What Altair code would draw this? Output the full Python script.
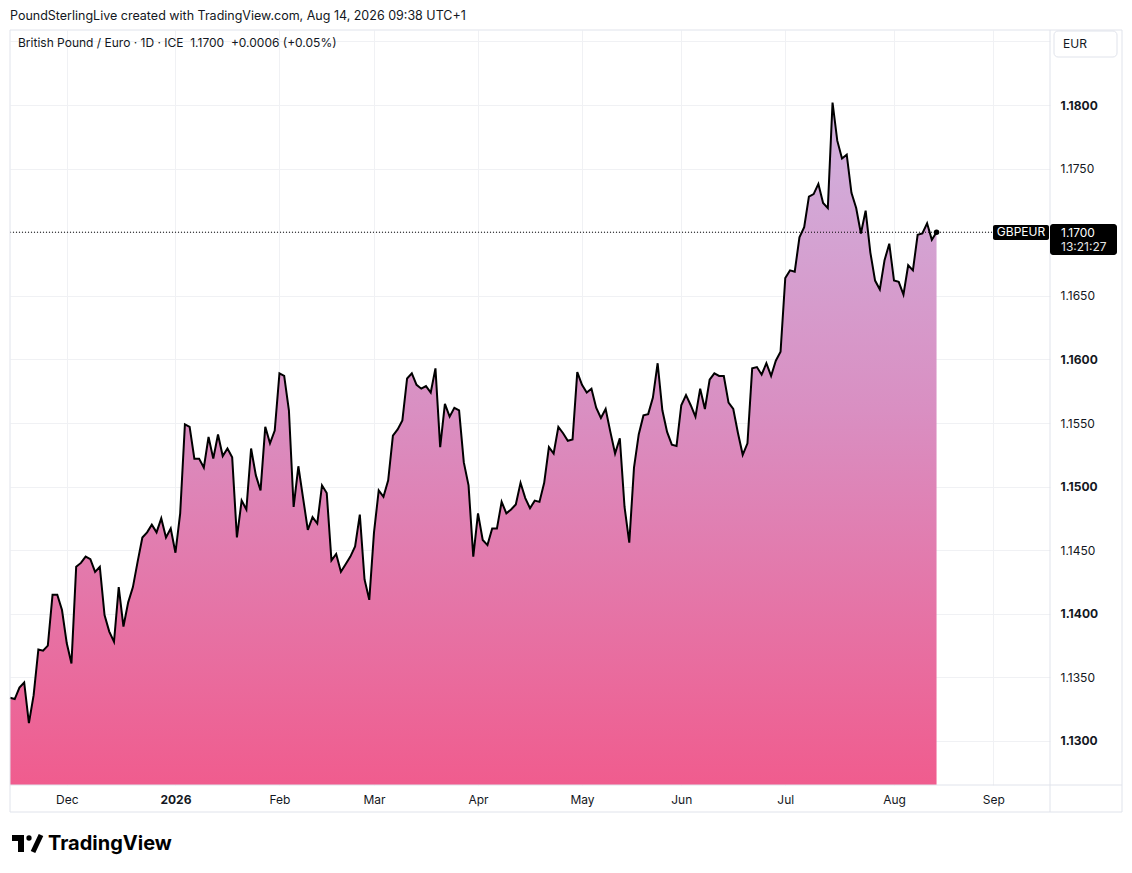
import altair as alt
import pandas as pd

# ---- data ----
PRICES = [
    1.1334, 1.1333, 1.1342, 1.1346, 1.1314, 1.1336, 1.1372, 1.1371, 1.1375, 1.1415,
    1.1415, 1.1403, 1.1377, 1.1361, 1.1437, 1.1440, 1.1445, 1.1443, 1.1433, 1.1437,
    1.1399, 1.1386, 1.1378, 1.1421, 1.1390, 1.1409, 1.1421, 1.1441, 1.1460, 1.1464,
    1.1470, 1.1464, 1.1475, 1.1460, 1.1467, 1.1448, 1.1479, 1.1549, 1.1547, 1.1522,
    1.1522, 1.1515, 1.1539, 1.1522, 1.1541, 1.1524, 1.1530, 1.1523, 1.1460, 1.1489,
    1.1482, 1.1530, 1.1509, 1.1497, 1.1547, 1.1534, 1.1544, 1.1589, 1.1587, 1.1560,
    1.1484, 1.1516, 1.1491, 1.1466, 1.1476, 1.1471, 1.1501, 1.1495, 1.1442, 1.1447,
    1.1433, 1.1439, 1.1445, 1.1453, 1.1478, 1.1427, 1.1411, 1.1464, 1.1497, 1.1492,
    1.1505, 1.1540, 1.1545, 1.1552, 1.1585, 1.1589, 1.1580, 1.1577, 1.1579, 1.1574,
    1.1593, 1.1531, 1.1565, 1.1555, 1.1562, 1.1560, 1.1519, 1.1501, 1.1445, 1.1479,
    1.1458, 1.1454, 1.1467, 1.1467, 1.1488, 1.1479, 1.1482, 1.1486, 1.1503, 1.1491,
    1.1483, 1.1489, 1.1488, 1.1503, 1.1531, 1.1526, 1.1547, 1.1542, 1.1536, 1.1537,
    1.1590, 1.1580, 1.1574, 1.1577, 1.1562, 1.1554, 1.1561, 1.1543, 1.1526, 1.1538,
    1.1484, 1.1456, 1.1515, 1.1541, 1.1556, 1.1557, 1.1570, 1.1597, 1.1560, 1.1543,
    1.1533, 1.1532, 1.1564, 1.1572, 1.1564, 1.1555, 1.1577, 1.1561, 1.1584, 1.1589,
    1.1587, 1.1587, 1.1566, 1.1561, 1.1542, 1.1525, 1.1534, 1.1593, 1.1594, 1.1588,
    1.1597, 1.1587, 1.1599, 1.1606, 1.1664, 1.1670, 1.1669, 1.1696, 1.1704, 1.1728,
    1.1730, 1.1738, 1.1723, 1.1719, 1.1802, 1.1772, 1.1758, 1.1761, 1.1731, 1.1719,
    1.1699, 1.1717, 1.1684, 1.1662, 1.1655, 1.1678, 1.1691, 1.1662, 1.1661, 1.1651,
    1.1674, 1.1670, 1.1698, 1.1699, 1.1707, 1.1694, 1.1700,
]
END_DATE = "2026-08-14"
MONTH_LABELS = ["Dec", "2026", "Feb", "Mar", "Apr", "May", "Jun", "Jul", "Aug", "Sep"]
Y_TICKS = [1.1300, 1.1350, 1.1400, 1.1450, 1.1500, 1.1550, 1.1600, 1.1650,
           1.1700, 1.1750, 1.1800, 1.1850]
LAST_PRICE = 1.1700
Y_MIN, Y_MAX = 1.12654, 1.18590
X_MAX = 220

NB = "\u00a0"
HEADER = "PoundSterlingLive created with TradingView.com, Aug 14, 2026 09:38 UTC+1"
LEGEND = f"British Pound / Euro · 1D · ICE{NB}{NB}1.1700{NB}{NB}+0.0006 (+0.05%)"
SYMBOL = "GBPEUR"
CLOCK = "13:21:27"

FONT = "Inter"
TXT = "#131722"
BORDER = "#e0e3eb"
GRID = "#f0f1f4"

# ---- build tables ----
dates = pd.bdate_range(end=END_DATE, periods=len(PRICES))
ext = pd.bdate_range(start=dates[0], periods=240)
month_idx = [i for i in range(1, len(ext)) if ext[i].month != ext[i - 1].month][: len(MONTH_LABELS)]
df = pd.DataFrame({"i": range(len(PRICES)), "price": PRICES, "date": dates})
last = df.tail(1)
one = pd.DataFrame({"k": [0]})

x_label_expr = " : ".join(f"datum.value == {i} ? '{lab}'" for i, lab in zip(month_idx, MONTH_LABELS)) + " : ''"
bold_year = month_idx[MONTH_LABELS.index("2026")]

W, H = 1040, 755

x_enc = alt.X(
    "i:Q",
    scale=alt.Scale(domain=[0, X_MAX], nice=False, zero=False),
    axis=alt.Axis(
        values=month_idx, labelExpr=x_label_expr, title=None, grid=True, gridColor=GRID,
        ticks=False, domain=False, labelPadding=9, labelFontSize=12, labelColor=TXT,
        labelFont=FONT, labelOverlap=False, labelFlush=False, labelBound=False,
        labelFontWeight={"condition": {"test": f"datum.value == {bold_year}", "value": "bold"}, "value": "normal"},
    ),
)
y_enc = alt.Y(
    "price:Q",
    scale=alt.Scale(domain=[Y_MIN, Y_MAX], nice=False, zero=False),
    axis=alt.Axis(
        orient="right", values=Y_TICKS, title=None, grid=True, gridColor=GRID, ticks=False,
        domain=False, labelAlign="left", labelPadding=10, labelFontSize=12, labelColor=TXT,
        labelFont=FONT, labelOverlap=False, labelFlush=False, labelBound=False,
        labelExpr="datum.value > 1.1845 || abs(datum.value - 1.17) < 0.0001 ? '' : format(datum.value, '.4f')",
        labelFontWeight={"condition": {"test": "abs(datum.value * 100 - round(datum.value * 100)) < 0.001",
                                        "value": "bold"}, "value": "normal"},
    ),
)

area = alt.Chart(df).mark_area(
    color=alt.Gradient(
        gradient="linear", x1=0, x2=0, y1=0, y2=1,
        stops=[alt.GradientStop(color="#d0b2df", offset=0),
               alt.GradientStop(color="#d98fc2", offset=0.45),
               alt.GradientStop(color="#f05c8e", offset=1)],
    )
).encode(x=x_enc, y=y_enc, y2=alt.datum(Y_MIN))

line = alt.Chart(df).mark_line(color="#000000", strokeWidth=2).encode(x="i:Q", y="price:Q")

dot = alt.Chart(last).mark_circle(color="#000000", size=30, opacity=1).encode(x="i:Q", y="price:Q")

dotted = alt.Chart(one).mark_rule(color="#000000", strokeWidth=1, strokeDash=[1, 2]).encode(
    x=alt.value(0), x2=alt.value(983), y=alt.datum(LAST_PRICE)
)

# outer frame and separators
frame = alt.Chart(one).mark_rect(fill="white", fillOpacity=0, stroke=BORDER, strokeWidth=1).encode(
    x=alt.value(0), x2=alt.value(1112), y=alt.value(0), y2=alt.value(782)
)
vsep = alt.Chart(one).mark_rule(color=BORDER).encode(x=alt.value(1040), y=alt.value(0), y2=alt.value(782))
hsep = alt.Chart(one).mark_rule(color=BORDER).encode(y=alt.value(755), x=alt.value(0), x2=alt.value(1112))

# symbol tag and price tag
sym_box = alt.Chart(one).mark_rect(color="#000000", cornerRadius=2).encode(
    x=alt.value(983), x2=alt.value(1039), y=alt.value(195), y2=alt.value(210)
)
sym_txt = alt.Chart(one).mark_text(color="white", font=FONT, fontSize=12, align="center", baseline="middle").encode(
    x=alt.value(1011), y=alt.datum(LAST_PRICE), text=alt.value(SYMBOL)
)
price_box = alt.Chart(one).mark_rect(color="#000000", cornerRadius=3).encode(
    x=alt.value(1040), x2=alt.value(1107), y=alt.value(194), y2=alt.value(225)
)
price_txt = alt.Chart(one).mark_text(color="white", font=FONT, fontSize=12, align="left", baseline="middle").encode(
    x=alt.value(1051), y=alt.value(203), text=alt.value(f"{LAST_PRICE:.4f}")
)
clock_txt = alt.Chart(one).mark_text(color="#e6e6e6", font=FONT, fontSize=12, align="left", baseline="middle").encode(
    x=alt.value(1051), y=alt.value(217), text=alt.value(CLOCK)
)

# currency box
eur_box = alt.Chart(one).mark_rect(fill="white", stroke=BORDER, cornerRadius=4).encode(
    x=alt.value(1044), x2=alt.value(1107), y=alt.value(1), y2=alt.value(27)
)
eur_txt = alt.Chart(one).mark_text(color=TXT, font=FONT, fontSize=12, align="left", baseline="middle").encode(
    x=alt.value(1053), y=alt.value(14), text=alt.value("EUR")
)

# texts
header = alt.Chart(one).mark_text(color=TXT, font=FONT, fontSize=12.5, align="left", baseline="middle").encode(
    x=alt.value(0), y=alt.value(-14), text=alt.value(HEADER)
)
legend = alt.Chart(one).mark_text(color=TXT, font=FONT, fontSize=12, align="left", baseline="middle").encode(
    x=alt.value(8), y=alt.value(13), text=alt.value(LEGEND)
)

# TradingView logo
logo_bar = alt.Chart(one).mark_rect(color="#000000").encode(
    x=alt.value(2), x2=alt.value(14), y=alt.value(805), y2=alt.value(811)
)
logo_stem = alt.Chart(one).mark_rect(color="#000000").encode(
    x=alt.value(8), x2=alt.value(14), y=alt.value(805), y2=alt.value(822)
)
logo_dot = alt.Chart(one).mark_circle(color="#000000", size=28, opacity=1).encode(
    x=alt.value(19), y=alt.value(808)
)
logo_slash = alt.Chart(one).mark_rule(color="#000000", strokeWidth=5).encode(
    x=alt.value(31), y=alt.value(805), x2=alt.value(23), y2=alt.value(822)
)
logo_txt = alt.Chart(one).mark_text(color="#000000", font=FONT, fontSize=20, fontWeight="bold",
                                    align="left", baseline="middle").encode(
    x=alt.value(38), y=alt.value(814), text=alt.value("TradingView")
)

chart = alt.layer(
    area, line, dotted, dot, frame, vsep, hsep,
    sym_box, sym_txt, price_box, price_txt, clock_txt,
    eur_box, eur_txt, header, legend,
    logo_bar, logo_stem, logo_dot, logo_slash, logo_txt,
).properties(
    width=W, height=H,
    autosize=alt.AutoSizeParams(type="none"),
    padding={"left": 2, "top": 22, "right": 74, "bottom": 80},
    background="white",
).configure_view(stroke=None)

chart.save("out.html", embed_options={"renderer": "svg", "actions": False})
